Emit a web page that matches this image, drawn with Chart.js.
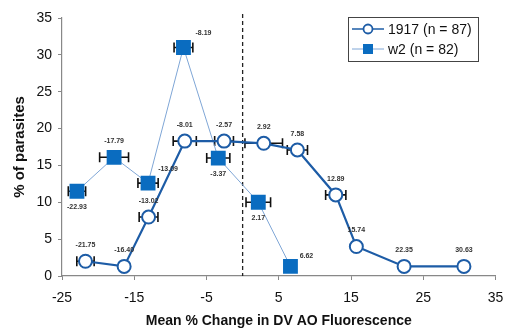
<!DOCTYPE html>
<html>
<head>
<meta charset="utf-8">
<script src="https://cdn.jsdelivr.net/npm/chart.js@4.4.1/dist/chart.umd.min.js"></script>
<style>
  html, body { margin: 0; padding: 0; background: #fff; }
  #wrap { width: 506px; height: 329px; position: relative; }
</style>
</head>
<body>
<div id="wrap"><canvas id="chart"></canvas></div>
<script>
// --- data ---
const xTicks = [-25, -15, -5, 5, 15, 25, 35];
const yTicks = [0, 5, 10, 15, 20, 25, 30, 35];

const s1917Label = '1917 (n = 87)';
const s1917X = [-21.75, -16.40, -13.02, -8.01, -2.57, 2.92, 7.58, 12.89, 15.74, 22.35, 30.63];
const s1917Y = [2.0, 1.3, 8.0, 18.3, 18.3, 18.0, 17.1, 11.0, 4.0, 1.3, 1.3];
const s1917Err = [1.2, 0, 1.3, 1.6, 1.3, 2.6, 1.4, 1.4, 0, 0, 0];
const s1917Pos = ['up', 'up', 'up', 'up', 'up', 'up', 'up', 'up', 'up', 'up', 'up'];

const w2Label = 'w2 (n = 82)';
const w2X = [-22.93, -17.79, -13.09, -8.19, -3.37, 2.17, 6.62];
const w2Y = [11.5, 16.1, 12.6, 31.0, 16.0, 10.0, 1.3];
const w2Err = [1.2, 2.0, 1.4, 1.3, 1.6, 1.7, 0];
const w2Pos = ['down', 'up', 'upright', 'upright', 'down', 'down', 'right'];

const FONT = '"Liberation Sans", Arial, Helvetica, sans-serif';
const blueDark = '#1d5ca6';
const blueFill = '#0a6cc0';
const blueLight = '#7fa6d6';

const pts = (xs, ys) => xs.map((x, i) => ({ x: x, y: ys[i] }));
const errs = [s1917Err, w2Err];
const labelPos = [s1917Pos, w2Pos];

// error bars, zero line, value labels, legend box
const extras = {
  id: 'extras',
  beforeDatasetsDraw(chart) {
    const { ctx, chartArea, scales: { x, y } } = chart;
    // dashed line at 0
    ctx.save();
    ctx.strokeStyle = '#222';
    ctx.lineWidth = 1.3;
    ctx.setLineDash([4, 3]);
    ctx.beginPath();
    ctx.moveTo(x.getPixelForValue(0), chartArea.top - 4);
    ctx.lineTo(x.getPixelForValue(0), chartArea.bottom);
    ctx.stroke();
    ctx.setLineDash([]);
    // horizontal error bars
    ctx.strokeStyle = '#111';
    ctx.lineWidth = 1.6;
    chart.data.datasets.forEach((ds, di) => {
      ds.data.forEach((p, i) => {
        const e = errs[di][i];
        if (!e) return;
        const x0 = x.getPixelForValue(p.x - e), x1 = x.getPixelForValue(p.x + e);
        const py = y.getPixelForValue(p.y);
        ctx.beginPath();
        ctx.moveTo(x0, py); ctx.lineTo(x1, py);
        ctx.moveTo(x0, py - 5); ctx.lineTo(x0, py + 5);
        ctx.moveTo(x1, py - 5); ctx.lineTo(x1, py + 5);
        ctx.stroke();
      });
    });
    ctx.restore();
  },
  afterDatasetsDraw(chart) {
    const { ctx, scales: { x, y } } = chart;
    ctx.save();
    ctx.font = 'bold 7px ' + FONT;
    ctx.fillStyle = '#333';
    ctx.textAlign = 'center';
    ctx.textBaseline = 'middle';
    chart.data.datasets.forEach((ds, di) => {
      ds.data.forEach((p, i) => {
        const px = x.getPixelForValue(p.x), py = y.getPixelForValue(p.y);
        const pos = labelPos[di][i];
        let dx = 0, dy = -16;
        if (pos === 'down') dy = 16;
        if (pos === 'upright') { dx = 20; dy = -14; }
        if (pos === 'right') { dx = 16; dy = -10; }
        ctx.fillText(p.x.toFixed(2), px + dx, py + dy);
      });
    });
    ctx.restore();

    // legend box
    ctx.save();
    const bx = 348, by = 17, bw = 130, bh = 44;
    ctx.fillStyle = '#fff';
    ctx.fillRect(bx, by, bw, bh);
    ctx.strokeStyle = '#444';
    ctx.lineWidth = 1;
    ctx.strokeRect(bx + 0.5, by + 0.5, bw, bh);
    ctx.font = '14px ' + FONT;
    ctx.textBaseline = 'middle';
    ctx.textAlign = 'left';
    // row 1
    let ry = by + 12;
    ctx.strokeStyle = blueDark; ctx.lineWidth = 1.5;
    ctx.beginPath(); ctx.moveTo(bx + 4, ry); ctx.lineTo(bx + 36, ry); ctx.stroke();
    ctx.fillStyle = '#fff'; ctx.lineWidth = 1.8;
    ctx.beginPath(); ctx.arc(bx + 20, ry, 4.5, 0, Math.PI * 2); ctx.fill(); ctx.stroke();
    ctx.fillStyle = '#111';
    ctx.fillText(s1917Label, bx + 40, ry + 1);
    // row 2
    ry = by + 32;
    ctx.strokeStyle = blueLight; ctx.lineWidth = 1;
    ctx.beginPath(); ctx.moveTo(bx + 4, ry); ctx.lineTo(bx + 36, ry); ctx.stroke();
    ctx.fillStyle = blueFill;
    ctx.fillRect(bx + 15, ry - 5, 10, 10);
    ctx.fillStyle = '#111';
    ctx.fillText(w2Label, bx + 40, ry + 1);
    ctx.restore();
  }
};

new Chart(document.getElementById('chart'), {
  type: 'line',
  data: {
    datasets: [
      {
        label: s1917Label,
        data: pts(s1917X, s1917Y),
        borderColor: blueDark,
        borderWidth: 2.2,
        pointStyle: 'circle',
        pointRadius: 6.5,
        pointBorderWidth: 2,
        pointBackgroundColor: '#fff',
        pointBorderColor: blueDark,
        tension: 0
      },
      {
        label: w2Label,
        data: pts(w2X, w2Y),
        borderColor: blueLight,
        borderWidth: 1,
        pointStyle: 'rect',
        pointRadius: 10.5,
        pointBorderWidth: 0,
        pointBackgroundColor: blueFill,
        pointBorderColor: blueFill,
        tension: 0
      }
    ]
  },
  options: {
    responsive: true,
    maintainAspectRatio: false,
    animation: false,
    layout: { padding: { top: 18, right: 9, left: 0, bottom: 0 } },
    plugins: { legend: { display: false }, tooltip: { enabled: false } },
    scales: {
      x: {
        type: 'linear',
        min: -25, max: 35,
        afterBuildTicks: (axis) => { axis.ticks = xTicks.map(v => ({ value: v })); },
        ticks: { color: '#111', font: { family: FONT, size: 14 }, padding: 10 },
        grid: { display: true, drawOnChartArea: false, tickLength: 4, color: '#888' },
        border: { color: '#888', width: 1.2 },
        title: {
          display: true,
          text: 'Mean % Change in DV AO Fluorescence',
          color: '#111',
          font: { family: FONT, size: 14, weight: 'bold' },
          padding: { top: 10, bottom: -1 }
        },
        afterFit: (axis) => { axis.height = 53; axis.paddingLeft = 0; axis.paddingRight = 0; }
      },
      y: {
        min: 0, max: 35,
        afterBuildTicks: (axis) => { axis.ticks = yTicks.map(v => ({ value: v })); },
        ticks: { color: '#111', font: { family: FONT, size: 14 }, padding: 6 },
        grid: { display: true, drawOnChartArea: false, tickLength: 4, color: '#888' },
        border: { color: '#888', width: 1.2 },
        title: {
          display: true,
          text: '% of parasites',
          color: '#111',
          font: { family: FONT, size: 15, weight: 'bold' },
          padding: { top: 11, bottom: 0 }
        },
        afterFit: (axis) => { axis.width = 62; axis.paddingTop = 0; axis.paddingBottom = 0; }
      }
    }
  },
  plugins: [extras]
});
</script>
</body>
</html>
